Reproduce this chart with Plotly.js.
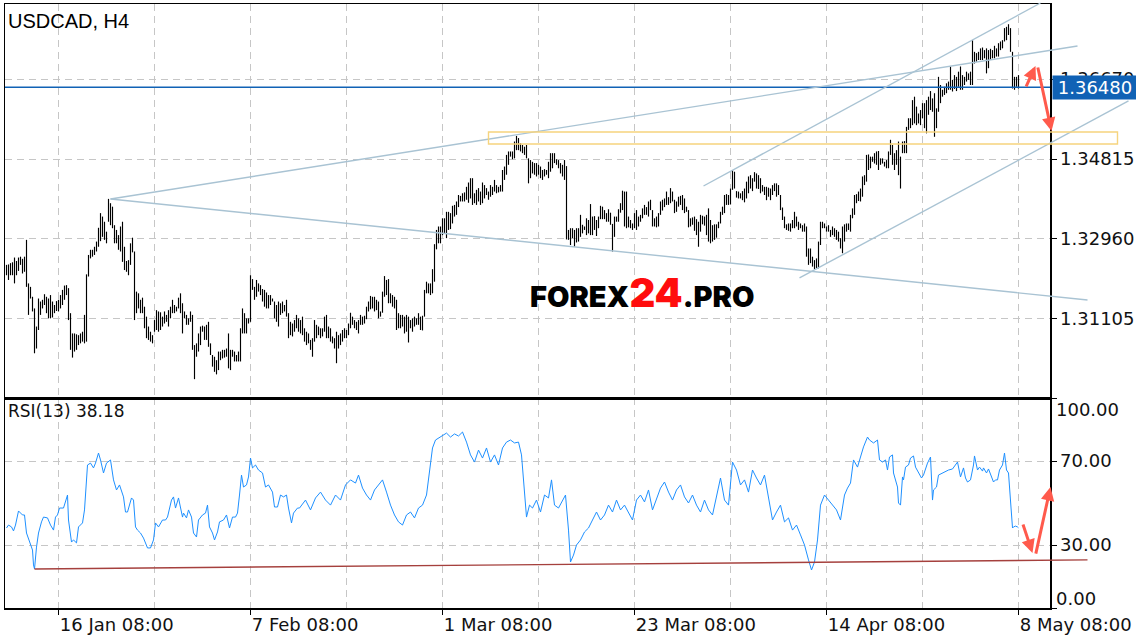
<!DOCTYPE html>
<html>
<head>
<meta charset="utf-8">
<script src="https://cdn.plot.ly/plotly-3.0.1.min.js"></script>
<style>
  html, body { margin: 0; padding: 0; background: #fff; }
  #chart { width: 1136px; height: 640px; }
</style>
</head>
<body>
<div id="chart"></div>
<script>
// ---------------- DATA ----------------
const symbolTitle = 'USDCAD, H4';
const rsiPeriod = 13;
const currentPrice = 1.36480;

// H4 bar highs / lows (one per bar, bar index 0..506)
const barHigh = [
1.3236,1.3237,1.3240,1.3242,1.3253,1.3245,1.3253,1.3255,1.3250,1.3255,
1.3294,1.3193,1.3185,1.3162,1.3135,1.3093,1.3158,1.3151,1.3155,1.3168,
1.3162,1.3158,1.3166,1.3151,1.3143,1.3152,1.3155,1.3166,1.3178,1.3188,
1.3189,1.3182,1.3124,1.3077,1.3077,1.3075,1.3073,1.3077,1.3081,1.3120,
1.3214,1.3259,1.3271,1.3271,1.3278,1.3290,1.3322,1.3356,1.3348,1.3336,
1.3313,1.3389,1.3379,1.3371,1.3328,1.3317,1.3305,1.3325,1.3336,1.3278,
1.3245,1.3247,1.3286,1.3299,1.3267,1.3174,1.3170,1.3155,1.3160,1.3139,
1.3116,1.3093,1.3081,1.3073,1.3108,1.3131,1.3128,1.3126,1.3116,1.3128,
1.3120,1.3131,1.3139,1.3155,1.3143,1.3139,1.3160,1.3170,1.3147,1.3128,
1.3120,1.3112,1.3128,1.3120,1.3050,1.3054,1.3077,1.3093,1.3095,1.3093,
1.3097,1.3104,1.3054,1.3027,1.3023,1.3015,1.3035,1.3035,1.3039,1.3039,
1.3042,1.3077,1.3039,1.3039,1.3035,1.3027,1.3035,1.3089,1.3135,1.3124,
1.3112,1.3112,1.3212,1.3203,1.3185,1.3201,1.3193,1.3189,1.3180,1.3178,
1.3172,1.3166,1.3166,1.3158,1.3151,1.3143,1.3151,1.3147,1.3151,1.3143,
1.3155,1.3124,1.3104,1.3100,1.3108,1.3120,1.3112,1.3108,1.3116,1.3089,
1.3081,1.3077,1.3062,1.3066,1.3108,1.3097,1.3093,1.3089,1.3089,1.3116,
1.3120,1.3093,1.3089,1.3070,1.3066,1.3081,1.3073,1.3077,1.3085,1.3089,
1.3085,1.3100,
1.3125,1.3116,1.3108,1.3104,1.3108,1.3120,1.3116,1.3118,1.3139,1.3151,
1.3164,1.3162,1.3162,1.3155,1.3151,1.3128,1.3174,1.3210,1.3201,1.3203,
1.3170,1.3166,1.3162,1.3155,1.3124,1.3120,1.3120,1.3116,1.3120,1.3116,
1.3108,1.3112,1.3116,1.3112,1.3124,1.3116,1.3118,1.3178,1.3197,1.3193,
1.3193,1.3226,1.3284,1.3317,1.3325,1.3325,1.3344,1.3344,1.3359,1.3359,
1.3356,1.3373,1.3375,1.3383,1.3398,1.3396,1.3402,1.3404,1.3417,1.3427,
1.3437,1.3437,1.3402,1.3410,1.3414,1.3406,1.3427,1.3421,1.3414,1.3406,
1.3421,1.3417,1.3433,1.3421,1.3417,1.3421,1.3456,1.3464,1.3491,1.3499,
1.3499,1.3499,1.3522,1.3535,1.3530,1.3518,1.3514,1.3510,1.3514,1.3483,
1.3479,1.3475,1.3472,1.3472,1.3468,1.3464,1.3456,1.3458,1.3456,1.3475,
1.3495,1.3495,1.3495,1.3481,1.3479,1.3472,1.3468,1.3479,1.3465,1.3317,
1.3321,1.3321,1.3317,1.3321,1.3321,1.3352,1.3329,1.3325,1.3344,1.3340,
1.3377,1.3348,1.3349,1.3340,1.3348,1.3373,1.3371,1.3363,1.3356,1.3365,
1.3357,1.3331,1.3348,1.3348,1.3365,1.3379,1.3408,1.3406,1.3406,1.3348,
1.3340,1.3332,1.3356,1.3363,1.3348,1.3352,1.3367,1.3375,1.3370,1.3383,
1.3387,1.3363,1.3344,1.3348,1.3356,1.3383,1.3387,1.3390,1.3406,1.3393,
1.3414,1.3406,1.3387,1.3383,1.3394,1.3396,1.3398,1.3390,1.3371,1.3363,
1.3344,1.3346,
1.3348,1.3342,1.3336,1.3352,1.3350,1.3348,1.3352,1.3367,1.3340,1.3328,
1.3330,1.3330,1.3336,1.3359,1.3371,1.3398,1.3400,1.3398,1.3413,1.3456,
1.3452,1.3407,1.3406,1.3402,1.3407,1.3413,1.3429,1.3441,1.3444,1.3437,
1.3451,1.3448,1.3444,1.3437,1.3421,1.3417,1.3417,1.3415,1.3413,1.3421,
1.3425,1.3425,1.3421,1.3398,1.3369,1.3348,1.3330,1.3332,1.3332,1.3340,
1.3359,1.3348,1.3336,1.3332,1.3328,1.3332,1.3325,1.3274,1.3274,1.3255,
1.3247,1.3251,1.3290,1.3336,1.3336,1.3332,1.3325,1.3328,1.3317,1.3325,
1.3321,1.3317,1.3313,1.3298,1.3325,1.3330,1.3332,1.3332,1.3352,1.3367,
1.3398,1.3400,1.3406,1.3413,1.3441,1.3444,1.3491,1.3492,1.3487,1.3487,
1.3495,1.3499,1.3500,1.3483,1.3483,1.3475,1.3479,1.3499,1.3526,1.3514,
1.3495,1.3502,1.3522,1.3487,1.3522,1.3523,1.3556,1.3576,1.3576,1.3618,
1.3626,1.3603,1.3587,1.3595,1.3611,1.3611,1.3618,1.3626,1.3639,1.3622,
1.3634,1.3599,1.3672,1.3653,1.3642,1.3649,1.3657,1.3661,1.3696,1.3665,
1.3676,1.3672,1.3684,1.3696,1.3676,1.3672,1.3684,1.3680,1.3684,1.3757,
1.3730,1.3727,1.3730,1.3738,1.3740,1.3734,1.3738,1.3734,1.3737,1.3734,
1.3744,1.3738,1.3750,1.3754,1.3757,1.3785,1.3788,1.3794,1.3785,1.3730,
1.3672,1.3672,1.3676
];
const barLow = [
1.3212,1.3201,1.3212,1.3212,1.3193,1.3212,1.3222,1.3236,1.3216,1.3220,
1.3185,1.3120,1.3158,1.3128,1.3031,1.3042,1.3085,1.3120,1.3135,1.3143,
1.3124,1.3112,1.3112,1.3114,1.3124,1.3129,1.3128,1.3135,1.3143,1.3155,
1.3166,1.3108,1.3039,1.3021,1.3035,1.3039,1.3050,1.3054,1.3058,1.3054,
1.3058,1.3209,1.3251,1.3255,1.3259,1.3267,1.3278,1.3291,1.3301,1.3294,
1.3286,1.3336,1.3328,1.3321,1.3286,1.3286,1.3271,1.3267,1.3243,1.3224,
1.3220,1.3212,1.3236,1.3265,1.3108,1.3124,1.3135,1.3124,1.3124,1.3089,
1.3066,1.3062,1.3058,1.3054,1.3081,1.3085,1.3081,1.3085,1.3093,1.3100,
1.3104,1.3093,1.3112,1.3124,1.3124,1.3128,1.3135,1.3124,1.3077,1.3112,
1.3097,1.3097,1.3104,1.3039,1.2971,1.3023,1.3035,1.3050,1.3081,1.3062,
1.3062,1.3046,1.3027,1.3000,1.2988,1.2982,1.2992,1.3015,1.3019,1.3021,
1.3023,1.2996,1.2992,1.3023,1.3012,1.3012,1.3012,1.3012,1.3077,1.3077,
1.3077,1.3100,1.3104,1.3178,1.3155,1.3162,1.3174,1.3166,1.3151,1.3139,
1.3135,1.3135,1.3143,1.3151,1.3112,1.3104,1.3093,1.3120,1.3124,1.3128,
1.3116,1.3066,1.3073,1.3070,1.3081,1.3089,1.3081,1.3077,1.3073,1.3058,
1.3050,1.3054,1.3039,1.3023,1.3058,1.3066,1.3073,1.3066,1.3070,1.3081,
1.3066,1.3066,1.3058,1.3054,1.3042,1.3008,1.3042,1.3050,1.3058,1.3066,
1.3066,1.3073,
1.3089,1.3097,1.3089,1.3085,1.3077,1.3097,1.3097,1.3100,1.3110,1.3128,
1.3133,1.3135,1.3128,1.3131,1.3112,1.3116,1.3125,1.3162,1.3166,1.3147,
1.3147,1.3139,1.3135,1.3085,1.3089,1.3089,1.3093,1.3077,1.3081,1.3056,
1.3089,1.3081,1.3093,1.3097,1.3097,1.3085,1.3084,1.3116,1.3170,1.3170,
1.3166,1.3170,1.3197,1.3272,1.3286,1.3286,1.3305,1.3309,1.3298,1.3317,
1.3319,1.3332,1.3348,1.3352,1.3370,1.3383,1.3383,1.3383,1.3387,1.3380,
1.3390,1.3375,1.3379,1.3375,1.3383,1.3375,1.3379,1.3390,1.3398,1.3387,
1.3394,1.3398,1.3406,1.3402,1.3404,1.3406,1.3406,1.3433,1.3445,1.3468,
1.3487,1.3481,1.3483,1.3502,1.3502,1.3499,1.3495,1.3491,1.3483,1.3425,
1.3437,1.3448,1.3445,1.3441,1.3445,1.3437,1.3433,1.3441,1.3445,1.3437,
1.3452,1.3460,1.3472,1.3468,1.3460,1.3448,1.3441,1.3433,1.3295,1.3294,
1.3282,1.3298,1.3278,1.3288,1.3290,1.3301,1.3309,1.3317,1.3305,1.3309,
1.3305,1.3305,1.3317,1.3303,1.3321,1.3342,1.3342,1.3342,1.3336,1.3336,
1.3329,1.3267,1.3301,1.3336,1.3336,1.3357,1.3363,1.3325,1.3321,1.3323,
1.3321,1.3317,1.3321,1.3317,1.3325,1.3336,1.3344,1.3352,1.3352,1.3348,
1.3363,1.3325,1.3325,1.3323,1.3325,1.3352,1.3362,1.3370,1.3375,1.3375,
1.3379,1.3383,1.3356,1.3359,1.3371,1.3375,1.3363,1.3356,1.3359,1.3323,
1.3325,1.3329,
1.3315,1.3305,1.3278,1.3313,1.3330,1.3327,1.3305,1.3290,1.3286,1.3290,
1.3294,1.3299,1.3321,1.3332,1.3352,1.3356,1.3375,1.3375,1.3376,1.3410,
1.3413,1.3392,1.3390,1.3390,1.3386,1.3381,1.3390,1.3402,1.3413,1.3407,
1.3429,1.3413,1.3412,1.3402,1.3406,1.3398,1.3386,1.3394,1.3386,1.3398,
1.3407,1.3394,1.3398,1.3363,1.3340,1.3321,1.3317,1.3315,1.3313,1.3321,
1.3321,1.3325,1.3317,1.3321,1.3313,1.3313,1.3255,1.3236,1.3240,1.3232,
1.3226,1.3228,1.3228,1.3282,1.3321,1.3321,1.3313,1.3313,1.3301,1.3305,
1.3301,1.3294,1.3290,1.3274,1.3263,1.3290,1.3313,1.3317,1.3313,1.3344,
1.3352,1.3379,1.3384,1.3383,1.3394,1.3421,1.3429,1.3456,1.3460,1.3475,
1.3471,1.3468,1.3456,1.3468,1.3471,1.3464,1.3460,1.3460,1.3491,1.3468,
1.3456,1.3468,1.3444,1.3413,1.3495,1.3495,1.3495,1.3549,1.3553,1.3560,
1.3564,1.3560,1.3564,1.3560,1.3576,1.3553,1.3541,1.3584,1.3595,1.3591,
1.3533,1.3553,1.3591,1.3611,1.3626,1.3630,1.3634,1.3642,1.3642,1.3638,
1.3644,1.3639,1.3649,1.3642,1.3642,1.3653,1.3661,1.3665,1.3653,1.3653,
1.3703,1.3707,1.3711,1.3711,1.3711,1.3715,1.3680,1.3692,1.3711,1.3715,
1.3715,1.3719,1.3719,1.3734,1.3738,1.3754,1.3757,1.3769,1.3730,1.3645,
1.3642,1.3649,1.3645
];

// RSI(13) readings: bar index and value
const rsiIdx = [
0,1,2.5,3.5,4.5,6,8,9,10,11.5,13,13.5,14,15,16,17.5,18.5,20.5,22,23.5,24.5,25.5,26.5,28.5,30.5,31,32.5,33.5,35,36,
38,39,40.5,42,43.5,44.5,46,47,48.5,50,52,53.5,55,56.5,58.5,59.5,60.5,62.5,63.5,64.5,65.5,67,68.5,70.5,72,73.5,74.5,76,78,79.5,
80.5,82.5,83.5,84.5,86,88,88.5,90,91,92.5,93.5,95,96,98,99.5,100.5,101.5,103,104,105.5,106.5,108.5,110,111.5,113,114.5,115.5,116.5,117.5,118.5,
120,121,122,123,124.5,126,128,129.5,131,133,134,135.5,137,138.5,140,141,142.5,143.5,145.5,146.5,
147.5,149.5,152,154.5,157,159.5,162,164.5,167,169.5,172,174.5,176,178,180,182,184,186,188,190,192,194,196,198,200,202,204,206,208,210,
211.5,213,214.5,216,218,220,222,224,226,228,230,232,234,236,238,240,242,244,246,248,250,252,254,256,257.5,259,260,261.5,263,265,
267,269,271,272.5,274,276,278,279.5,281,282,283.5,285,287,289,291,293,295,297,299,301,303,305,307,309,311,313,315,317,319,321,
323,325,327,329,331,333,335,337,339,341,343,345,347,349,351,353,355,357,359,361,363,365,367,369,371,373,375,377,379,381,
383,385,387,389,391,393,395,397,399,401,402.5,404,405.5,407,409,411,413,415,417,419,420.5,
422,423.5,425.5,427,428.5,430.5,431.5,433.5,435.5,436.5,438,439.5,440.5,441.5,443,443.5,445.5,446,447,448,448.5,449.5,451,452,453.5,454.5,456,457.5,458.5,460.5,
462,463,463.5,465,466,468,469.5,471,473,474.5,475.5,477,478.5,479.5,480.5,482,483.5,484,485.5,486.5,488,488.5,490,491,492,493.5,494.5,495.5,496.5,498,
499,500,501,502,503,503.5,504.5,505.5,506
];
const rsiVal = [
38.1,39.5,38.6,36.7,39.5,46.2,44.3,44.3,35.7,31.4,27.6,20.5,18.6,29.0,35.7,41.0,43.3,42.9,39.5,37.1,43.3,44.3,47.6,47.6,53.8,41.9,31.4,32.4,31.0,38.6,
40.5,46.7,68.1,69.0,66.7,69.0,73.8,70.5,64.3,69.0,70.5,61.0,56.2,58.6,52.9,45.7,45.7,52.4,51.4,38.6,37.1,35.7,33.3,28.6,28.6,32.4,40.5,38.6,41.9,41.9,
43.3,51.4,52.9,47.6,52.4,43.3,45.2,42.9,46.7,43.3,35.7,33.8,41.9,44.3,45.2,49.0,38.6,35.7,32.4,36.2,41.0,41.9,44.3,38.1,43.3,43.3,45.2,53.8,63.3,57.6,
58.6,62.4,71.4,66.7,68.1,65.7,64.3,57.6,58.6,55.2,48.1,48.1,53.8,52.9,53.8,47.6,40.5,45.2,47.6,47.6,
49.0,51.4,46.7,52.4,55.2,51.4,49.0,53.8,51.4,58.6,61.0,59.5,63.3,57.1,53.8,51.4,56.2,58.6,61.0,55.2,49.0,44.3,41.0,39.5,44.3,45.7,42.9,47.6,49.0,53.8,
65.7,76.2,80.0,81.0,82.4,83.3,81.4,82.9,81.9,83.8,79.0,72.9,69.5,75.2,71.4,76.2,69.5,72.9,68.1,76.2,79.0,80.0,78.6,79.0,72.9,56.2,43.3,49.0,47.6,51.4,
45.7,53.8,52.4,61.0,49.0,47.6,51.4,53.8,37.1,21.9,25.2,30.0,32.4,36.2,38.1,41.9,45.7,41.9,44.3,49.0,45.7,51.4,46.7,49.0,45.7,41.9,51.4,53.8,50.5,56.2,
46.7,52.4,57.1,60.0,55.2,51.4,56.2,58.6,52.9,50.0,53.8,49.0,45.7,51.4,46.7,44.3,53.8,61.9,51.4,49.0,69.5,65.7,58.6,61.0,55.2,65.7,61.9,58.6,63.3,52.4,
41.9,45.7,49.0,41.0,42.9,37.1,39.5,34.8,30.0,22.9,18.1,21.9,32.4,49.0,53.8,51.4,49.0,46.7,41.9,53.8,57.1,
59.5,70.5,67.1,71.9,76.7,81.4,80.0,78.6,80.0,70.5,69.5,70.5,65.7,71.9,72.9,64.3,57.6,50.0,49.0,62.4,61.0,67.1,68.1,71.4,72.4,67.1,64.3,61.9,63.3,69.0,
71.9,51.4,56.2,57.6,63.3,64.3,64.8,65.7,66.2,68.1,69.5,62.4,66.7,61.9,60.0,61.0,68.1,72.4,65.7,67.1,65.2,66.7,64.3,66.2,63.3,60.0,61.0,61.0,65.7,68.1,
73.8,65.7,64.3,51.4,38.1,38.6,39.0,38.6,38.18
];

// Axis ticks
const xTickIdx  = [26, 122, 218, 314, 410, 506];
const xTickText = ['16 Jan 08:00', '7 Feb 08:00', '1 Mar 08:00', '23 Mar 08:00', '14 Apr 08:00', '8 May 08:00'];
const priceTicks = [1.31105, 1.32960, 1.34815, 1.36670];
const rsiTicks = [0, 30, 70, 100];

// Analyst drawings (bar index, price / RSI value)
const trendStartIdx = [52, 52, 348.5, 396.5];
const trendStartPx  = [1.33888, 1.33888, 1.34189, 1.32056];
const trendEndIdx   = [535.5, 540.5, 517, 561];
const trendEndPx    = [1.37435, 1.31546, 1.38432, 1.36160];
const zoneIdx   = [241, 555.5];
const zonePrice = [1.35163, 1.35441];
const rsiSupportIdx = [14, 540.5];
const rsiSupportVal = [18.6, 22.9];
const priceArrowTail = [[509.5, 1.36462], [515.5, 1.36972]];
const priceArrowHead = [[514.5, 1.36972], [522.5, 1.35464]];
const rsiArrowTail = [[508, 40.5], [514.5, 25.2]];
const rsiArrowHead = [[513, 26.2], [522, 57.6]];

// ---------------- LAYOUT GEOMETRY ----------------
const W = 1136, H = 640;
const M = {l: 5, r: 86, t: 4, b: 32};
const plotW = W - M.l - M.r, plotH = H - M.t - M.b;
const rsiFrac = 210 / plotH;
const xRange = [-0.75, 521.75];
const pRange = [1.29273, 1.38409];
const rRange = [0, 100];

// data -> paper helpers (use the axis ranges above)
const xPaper = i => (i - xRange[0]) / (xRange[1] - xRange[0]);
const pPaper = p => rsiFrac + (p - pRange[0]) / (pRange[1] - pRange[0]) * (1 - rsiFrac);
const rPaper = v => (v - rRange[0]) / (rRange[1] - rRange[0]) * rsiFrac;

const gridColor = '#c6c6c6';
const gridDash = '7px,5px';
const tickFont = {family: 'DejaVu Sans', size: 18, color: '#111'};

// ---------------- TRACES ----------------
const bx = [], by = [];
barHigh.forEach((h, i) => { bx.push(i, i, null); by.push(barLow[i], h, null); });

const traces = [
  {type: 'scatter', mode: 'lines', x: bx, y: by, xaxis: 'x2', yaxis: 'y',
   line: {color: '#000', width: 1.15}, hoverinfo: 'skip'},
  {type: 'scatter', mode: 'lines', x: rsiIdx, y: rsiVal, xaxis: 'x', yaxis: 'y2',
   line: {color: '#1e90ff', width: 1}, hoverinfo: 'skip'}
];

// ---------------- SHAPES ----------------
const shapes = [];
shapes.push({type: 'line', xref: 'paper', yref: 'y', x0: 0, x1: 1, y0: currentPrice, y1: currentPrice,
  line: {color: '#1062b5', width: 1.5}, layer: 'above'});
for (let k = 0; k < trendStartIdx.length; k++) {
  shapes.push({type: 'line', xref: 'paper', yref: 'paper',
    x0: xPaper(trendStartIdx[k]), y0: pPaper(trendStartPx[k]),
    x1: xPaper(trendEndIdx[k]), y1: pPaper(trendEndPx[k]),
    line: {color: '#a9c3d3', width: 1.4}, layer: 'above'});
}
shapes.push({type: 'rect', xref: 'paper', yref: 'paper',
  x0: xPaper(zoneIdx[0]), x1: xPaper(zoneIdx[1]), y0: pPaper(zonePrice[0]), y1: pPaper(zonePrice[1]),
  line: {color: '#f6d47e', width: 1.4}, fillcolor: 'rgba(255,255,255,0)', layer: 'above'});
shapes.push({type: 'line', xref: 'paper', yref: 'paper',
  x0: xPaper(rsiSupportIdx[0]), y0: rPaper(rsiSupportVal[0]),
  x1: xPaper(rsiSupportIdx[1]), y1: rPaper(rsiSupportVal[1]),
  line: {color: '#a5403d', width: 1.4}, layer: 'above'});

// ---------------- ANNOTATIONS ----------------
const annotations = [];
function arrow(tail, head, toPaperY) {
  const hx = xPaper(head[0]), hy = toPaperY(head[1]);
  const tx = xPaper(tail[0]), ty = toPaperY(tail[1]);
  annotations.push({xref: 'paper', yref: 'paper', x: hx, y: hy, text: '', showarrow: true,
    ax: (tx - hx) * plotW, ay: -(ty - hy) * plotH, axref: 'pixel', ayref: 'pixel',
    arrowcolor: '#ff5a4c', arrowwidth: 3, arrowhead: 2, arrowsize: 0.9, standoff: 0, startstandoff: 0});
}
priceArrowTail.forEach((t, k) => arrow(t, priceArrowHead[k], pPaper));
rsiArrowTail.forEach((t, k) => arrow(t, rsiArrowHead[k], rPaper));

annotations.push({xref: 'paper', yref: 'paper', x: 0, y: 1, xanchor: 'left', yanchor: 'top',
  xshift: 1, yshift: -4, text: symbolTitle, showarrow: false,
  font: {family: 'Liberation Sans, Arial, sans-serif', size: 20, color: '#000'}});
annotations.push({xref: 'paper', yref: 'paper', x: 0, y: rsiFrac, xanchor: 'left', yanchor: 'top',
  xshift: 1, yshift: -1, text: 'RSI(' + rsiPeriod + ') ' + rsiVal[rsiVal.length - 1].toFixed(2), showarrow: false,
  font: {family: 'DejaVu Sans', size: 17, color: '#111'}});
annotations.push({xref: 'paper', yref: 'y', x: 1, y: currentPrice, xanchor: 'left', yanchor: 'middle',
  xshift: 2, text: currentPrice.toFixed(5), showarrow: false, bgcolor: '#1062b5',
  width: 84, height: 23, borderpad: 0, align: 'center',
  font: {family: 'DejaVu Sans', size: 18, color: '#fff'}});
annotations.push({xref: 'paper', yref: 'paper', x: 1, y: rPaper(100), xanchor: 'left', yanchor: 'middle',
  xshift: 4, yshift: -11, text: '100.00', showarrow: false, font: tickFont});
annotations.push({xref: 'paper', yref: 'paper', x: 1, y: rPaper(0), xanchor: 'left', yanchor: 'middle',
  xshift: 4, yshift: 10, text: '0.00', showarrow: false, font: tickFont});
annotations.push({xref: 'paper', yref: 'paper', x: (642 - M.l) / plotW, y: 1 - (293 - M.t) / plotH,
  xanchor: 'center', yanchor: 'middle', showarrow: false,
  text: 'FOREX<span style="color:#ff0d0d;font-size:40px">24</span>.PRO',
  font: {family: 'Inter, Roboto, sans-serif', size: 29, weight: 900, color: '#000'}});

// ---------------- LAYOUT ----------------
const xCommon = {
  range: xRange, showgrid: true, gridcolor: gridColor, griddash: gridDash, gridwidth: 1,
  tickvals: xTickIdx, ticktext: xTickText, zeroline: false,
  minor: {tick0: 26, dtick: 48, showgrid: true, gridcolor: gridColor, griddash: gridDash, gridwidth: 1},
  showline: true, linecolor: '#000', linewidth: 1.5, mirror: true
};
const layout = {
  width: W, height: H, margin: M, paper_bgcolor: '#fff', plot_bgcolor: '#fff', showlegend: false,
  xaxis: Object.assign({}, xCommon, {anchor: 'y2', domain: [0, 1], ticks: 'outside', ticklen: 5,
    tickcolor: '#000', tickfont: tickFont, ticklabelposition: 'outside right'}),
  xaxis2: Object.assign({}, xCommon, {anchor: 'y', domain: [0, 1], matches: 'x', showticklabels: false, ticks: ''}),
  yaxis: {domain: [rsiFrac, 1], anchor: 'x2', side: 'right', range: pRange,
    tickvals: priceTicks, ticktext: priceTicks.map(v => v.toFixed(5)), ticks: 'outside', ticklen: 5,
    tickcolor: '#000', tickfont: tickFont, showgrid: true, gridcolor: gridColor, griddash: gridDash,
    zeroline: false, showline: true, linecolor: '#000', linewidth: 1.5, mirror: true},
  yaxis2: {domain: [0, rsiFrac], anchor: 'x', side: 'right', range: rRange,
    tickvals: rsiTicks, ticktext: rsiTicks.map(v => (v === 30 || v === 70) ? v.toFixed(2) : ''),
    ticks: 'outside', ticklen: 5, tickcolor: '#000', tickfont: tickFont,
    showgrid: true, gridcolor: gridColor, griddash: gridDash,
    zeroline: false, showline: true, linecolor: '#000', linewidth: 1.5, mirror: true},
  shapes: shapes,
  annotations: annotations
};

Plotly.newPlot('chart', traces, layout, {displayModeBar: false, staticPlot: true});
</script>
</body>
</html>
